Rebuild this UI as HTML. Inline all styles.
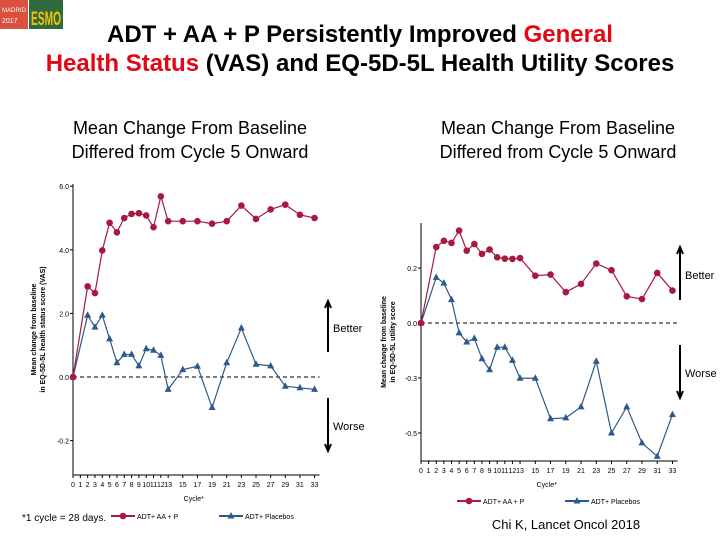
<!DOCTYPE html>
<html><head><meta charset="utf-8"><style>
body{margin:0;width:720px;height:540px;background:#fff;overflow:hidden;font-family:"Liberation Sans",sans-serif}
svg text{font-family:"Liberation Sans",sans-serif}
</style></head><body>
<svg id="s" width="720" height="540" viewBox="0 0 720 540">
<g>
<rect x="0" y="0" width="28" height="29" fill="#d9503f"/>
<text x="2" y="12" font-size="6" fill="#fff" textLength="24" lengthAdjust="spacingAndGlyphs">MADRID</text>
<text x="2" y="23" font-size="7" fill="#fff">2017</text>
<rect x="29" y="0" width="34" height="29" fill="#2e6a3e"/>
<text x="31" y="25" font-size="19" font-weight="bold" fill="#f4c200" textLength="30" lengthAdjust="spacingAndGlyphs">ESMO</text>
</g>
<text x="360" y="42" font-size="24" font-weight="bold" text-anchor="middle" fill="#000">ADT + AA + P Persistently Improved <tspan fill="#e30613">General</tspan></text>
<text x="360" y="71" font-size="24" font-weight="bold" text-anchor="middle" fill="#000"><tspan fill="#e30613">Health Status</tspan> (VAS) and EQ-5D-5L Health Utility Scores</text>
<text x="190" y="134" font-size="18" text-anchor="middle">Mean Change From Baseline</text>
<text x="190" y="158" font-size="18" text-anchor="middle">Differed from Cycle 5 Onward</text>
<text x="558" y="134" font-size="18" text-anchor="middle">Mean Change From Baseline</text>
<text x="558" y="158" font-size="18" text-anchor="middle">Differed from Cycle 5 Onward</text>
<g id="L"></g><g id="R"></g>
<text x="22" y="521" font-size="10" font-family="Liberation Serif">*1 cycle = 28 days.</text>
<text x="566" y="529" font-size="13" font-family="Liberation Serif" text-anchor="middle">Chi K, Lancet Oncol 2018</text>
</svg>
<script>
const xTicks=[0,1,2,3,4,5,6,7,8,9,10,11,12,13,15,17,19,21,23,25,27,29,31,33];
const cycles=[0,2,3,4,5,6,7,8,9,10,11,12,13,15,17,19,21,23,25,27,29,31,33];
const vasAA=[0,2.85,2.64,3.98,4.85,4.55,5.0,5.13,5.15,5.08,4.71,5.68,4.9,4.9,4.9,4.82,4.9,5.39,4.97,5.27,5.42,5.1,5.0];
const vasPl=[0,1.94,1.57,1.94,1.2,0.45,0.71,0.71,0.35,0.89,0.84,0.68,-0.39,0.23,0.34,-0.96,0.45,1.54,0.4,0.35,-0.29,-0.34,-0.39];
const vasTickVals=[6,4,2,0,-2];
const vasTickLabels=["6.0","4.0","2.0","0.0","-0.2"];
const utilAA=[0,0.276,0.299,0.291,0.336,0.263,0.287,0.251,0.267,0.239,0.234,0.233,0.236,0.172,0.176,0.112,0.142,0.216,0.192,0.097,0.087,0.182,0.118];
const utilPl=[0,0.166,0.145,0.085,-0.036,-0.069,-0.056,-0.13,-0.17,-0.088,-0.088,-0.136,-0.201,-0.201,-0.348,-0.345,-0.305,-0.139,-0.4,-0.305,-0.436,-0.485,-0.333];
const utilTickVals=[0.2,0,-0.2,-0.4];
const utilTickLabels=["0.2","0.0","-0.3","-0.5"];
const NS="http://www.w3.org/2000/svg";
function mk(p,t,a){const e=document.createElementNS(NS,t);for(const k in a)e.setAttribute(k,a[k]);p.appendChild(e);return e;}
const RED="#a8183f",BLUE="#2d5a8a";
function chart(g,o){
 const X=c=>o.x0+c*o.xs, Y=v=>o.y0-(v-o.v0)*o.ys;
 const ax=mk(g,'path',{d:`M${o.x0} ${o.top}V${o.bot}H${X(33)+5}`,stroke:'#000',fill:'none','stroke-width':1});
 
 
 o.tv.forEach((v,i)=>{const t=mk(g,'text',{x:o.x0-4,y:Y(v)+3,'font-size':7,'text-anchor':'end'});t.textContent=o.tl[i];
  
  
  mk(g,'line',{x1:o.x0-3,x2:o.x0,y1:Y(v),y2:Y(v),stroke:'#000'});});
 xTicks.forEach(c=>{mk(g,'line',{x1:X(c),x2:X(c),y1:o.bot,y2:o.bot+3,stroke:'#000'});
  const t=mk(g,'text',{x:X(c),y:o.bot+12,'font-size':7,'text-anchor':'middle'});t.textContent=c;
  
  });
 const z=mk(g,'line',{x1:o.x0,x2:X(33)+5,y1:Y(0),y2:Y(0),stroke:'#000','stroke-dasharray':'4 3'});
 
 
 const xl=mk(g,'text',{x:(o.x0+X(33))/2,y:o.bot+26,'font-size':7,'text-anchor':'middle'});xl.textContent='Cycle*';
 
 
 const yl=mk(g,'text',{transform:`translate(${o.ylx},${(o.top+o.bot)/2}) rotate(-90)`,'font-size':7,'font-weight':'bold','text-anchor':'middle','font-family':'Liberation Serif'});
 
 
 o.yl.forEach((s,i)=>{const ts=mk(yl,'tspan',{x:0,dy:i?9:0});ts.textContent=s;});
 [[o.pl,BLUE,'placebo'],[o.aa,RED,'adt-aa-p']].forEach(([d,c,n])=>{
  const l=mk(g,'polyline',{points:d.map((v,i)=>X(cycles[i])+','+Y(v)).join(' '),fill:'none',stroke:c,'stroke-width':1.2});
  
  
  d.forEach((v,i)=>{let m;
   if(c==RED)m=mk(g,'circle',{cx:X(cycles[i]),cy:Y(v),r:3.3,fill:c});
   else {const x=X(cycles[i]),y=Y(v);m=mk(g,'path',{d:`M${x} ${y-4}L${x+3.5} ${y+2.5}L${x-3.5} ${y+2.5}Z`,fill:c});}
   
   });
 });
 const ly=o.bot+o.legDy;
 [[RED,'ADT+ AA + P',o.legX],[BLUE,'ADT+ Placebos',o.legX+108]].forEach(([c,s,x])=>{
  const e=mk(g,'g',{});
  
  
  mk(e,'line',{x1:x,x2:x+24,y1:ly,y2:ly,stroke:c,'stroke-width':2});
  if(c==RED)mk(e,'circle',{cx:x+12,cy:ly,r:3.3,fill:c});else mk(e,'path',{d:`M${x+12} ${ly-4}L${x+15.5} ${ly+2.5}L${x+8.5} ${ly+2.5}Z`,fill:c});
  const t=mk(e,'text',{x:x+26,y:ly+3,'font-size':7});t.textContent=s;});
 const A=o.arrX;
 [[o.bU1,o.bU2,-1],[o.bD1,o.bD2,1]].forEach(([a,b,d])=>{
  const ar=mk(g,'path',{d:`M${A} ${a}V${b}M${A-3} ${b-d*7}L${A} ${b}L${A+3} ${b-d*7}`,stroke:'#000','stroke-width':2,fill:'none'});
  
  });
 const bt=mk(g,'text',{x:A+5,y:o.betY,'font-size':11});bt.textContent='Better';
 
 
 const wt=mk(g,'text',{x:A+5,y:o.worY,'font-size':11});wt.textContent='Worse';
 
 
}
const L=document.getElementById('L');


chart(L,{x0:73,xs:7.32,y0:377,v0:0,ys:31.8,top:184,bot:475,tv:vasTickVals,tl:vasTickLabels,aa:vasAA,pl:vasPl,ylx:36,
 yl:['Mean change from baseline','in EQ-5D-5L health status score (VAS)'],legX:111,legDy:41,arrX:328,bU1:352,bU2:301,bD1:398,bD2:451,betY:332,worY:430});
const R=document.getElementById('R');


chart(R,{x0:421,xs:7.62,y0:323,v0:0,ys:275,top:223,bot:461,tv:utilTickVals,tl:utilTickLabels,aa:utilAA,pl:utilPl,ylx:386,
 yl:['Mean change from baseline','in EQ-5D-5L utility score'],legX:457,legDy:40,arrX:680,bU1:300,bU2:247,bD1:345,bD2:398,betY:279,worY:377});
</script>
</body></html>
